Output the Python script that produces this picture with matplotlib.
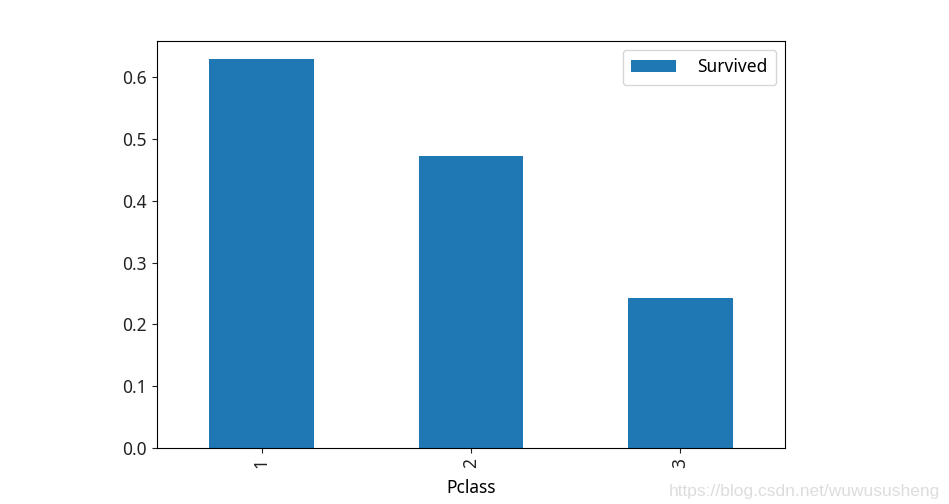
import matplotlib
matplotlib.use("Agg")
import matplotlib.pyplot as plt

plt.rcParams['font.family'] = ['Noto Sans', 'DejaVu Sans']

pclass = ['1', '2', '3']
survived = [0.629630, 0.472826, 0.242363]

fig = plt.figure(figsize=(9.49, 5.04), dpi=100)
ax = fig.add_axes([0.1654, 0.111, 0.6618, 0.8077])

x = range(len(pclass))
ax.bar(x, survived, width=0.5, color='#1f77b4', label='Survived')
ax.set_xlim(-0.5, 2.5)
ax.set_ylim(0, 0.6586)
ax.set_xticks(list(x))
ax.set_xticklabels(pclass, rotation=90)
ax.set_xlabel('Pclass', fontsize=12.5, labelpad=8)
ax.tick_params(labelsize=12.5, colors='#222222')
ax.legend(loc='upper right', fontsize=12.5, borderpad=0.5, handlelength=2.6, handletextpad=1.2)

fig.text(0.99, 0.01, 'https://blog.csdn.net/wuwususheng', ha='right', va='bottom',
         color='#dddddd', fontsize=12.5, family='Liberation Sans')

fig.savefig('out.png', dpi=100)
